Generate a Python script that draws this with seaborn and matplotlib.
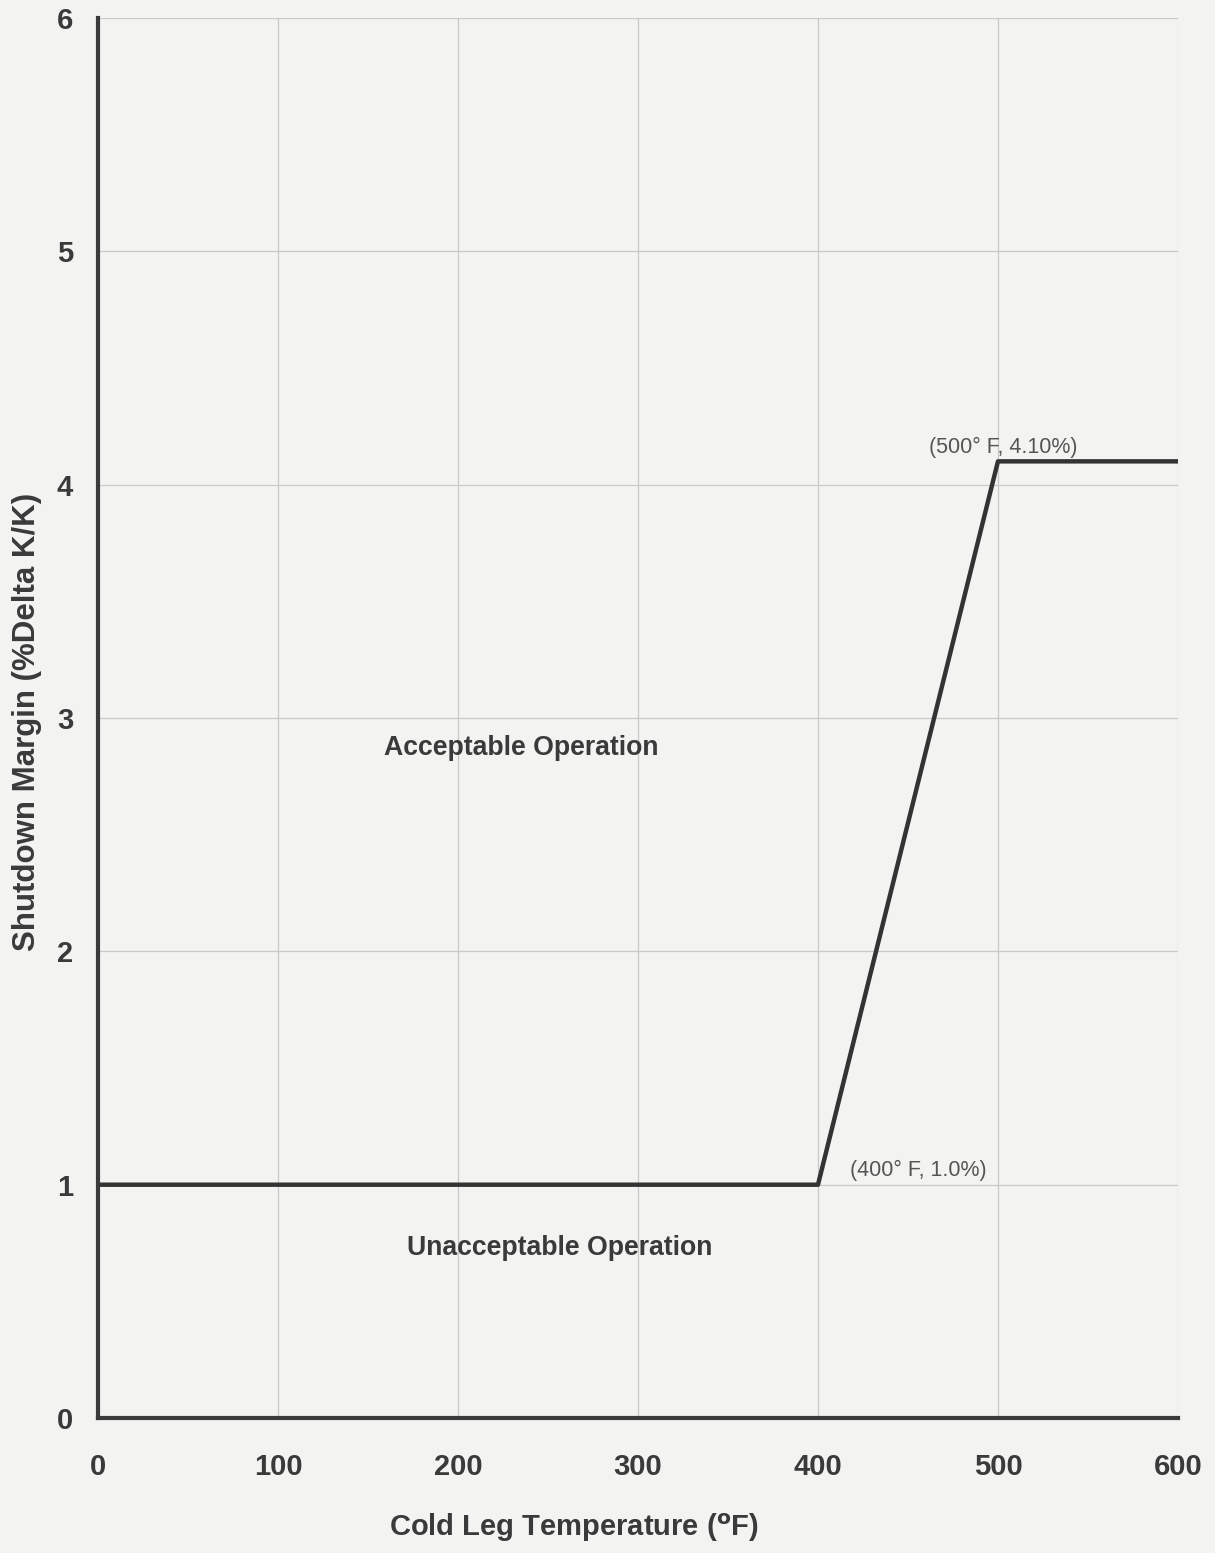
import matplotlib
matplotlib.use("Agg")
import matplotlib.pyplot as plt
import seaborn as sns
import pandas as pd

# Shutdown margin limit curve
temperature_f = [0, 400, 500, 600]
shutdown_margin = [1.0, 1.0, 4.1, 4.1]

x_ticks = [0, 100, 200, 300, 400, 500, 600]
y_ticks = [0, 1, 2, 3, 4, 5, 6]

df = pd.DataFrame({"temp": temperature_f, "margin": shutdown_margin})

sns.set_theme(style="whitegrid")
plt.rcParams["font.family"] = ["Liberation Sans", "DejaVu Sans"]

bg = "#f3f3f1"
ink = "#3a3a3a"
fig = plt.figure(figsize=(12.15, 15.53), dpi=100, facecolor=bg)
ax = fig.add_axes([0.0807, 0.0869, 0.8888, 0.9015])
ax.set_facecolor(bg)

sns.lineplot(data=df, x="temp", y="margin", ax=ax, color="#333333",
             linewidth=3.2, sort=False, zorder=5)

ax.set_xlim(0, 600)
ax.set_ylim(0, 6)
ax.set_xticks(x_ticks)
ax.set_yticks(y_ticks)
ax.grid(True, color="#c9c9c7", linewidth=0.9)

for side in ("top", "right"):
    ax.spines[side].set_visible(False)
for side in ("left", "bottom"):
    ax.spines[side].set_color(ink)
    ax.spines[side].set_linewidth(3.0)
    ax.spines[side].set_zorder(6)

ax.tick_params(axis="x", length=0, pad=25, labelsize=21, labelcolor=ink)
ax.tick_params(axis="y", length=0, pad=18, labelsize=21, labelcolor=ink)
for lab in ax.get_xticklabels() + ax.get_yticklabels():
    lab.set_fontweight("bold")

ax.set_xlabel(r"Cold Leg Temperature ($\mathbf{^{o}}$F)", fontsize=21,
              fontweight="bold", color=ink, va="center")
ax.xaxis.set_label_coords(0.441, -0.0786)
ax.set_ylabel("Shutdown Margin (%Delta K/K)", fontsize=22.5,
              fontweight="bold", color=ink, va="center")
ax.yaxis.set_label_coords(-0.0655, 0.497)

ax.text(235, 2.87, "Acceptable Operation", fontsize=19.2, fontweight="bold",
        color=ink, ha="center", va="center")
ax.text(256.5, 0.73, "Unacceptable Operation", fontsize=19.2, fontweight="bold",
        color=ink, ha="center", va="center")
ax.text(503, 4.16, "(500° F, 4.10%)", fontsize=15.5, color="#555555",
        ha="center", va="center")
ax.text(456, 1.06, "(400° F, 1.0%)", fontsize=15.5, color="#555555",
        ha="center", va="center")

fig.savefig("out.png", dpi=100, facecolor=bg)
